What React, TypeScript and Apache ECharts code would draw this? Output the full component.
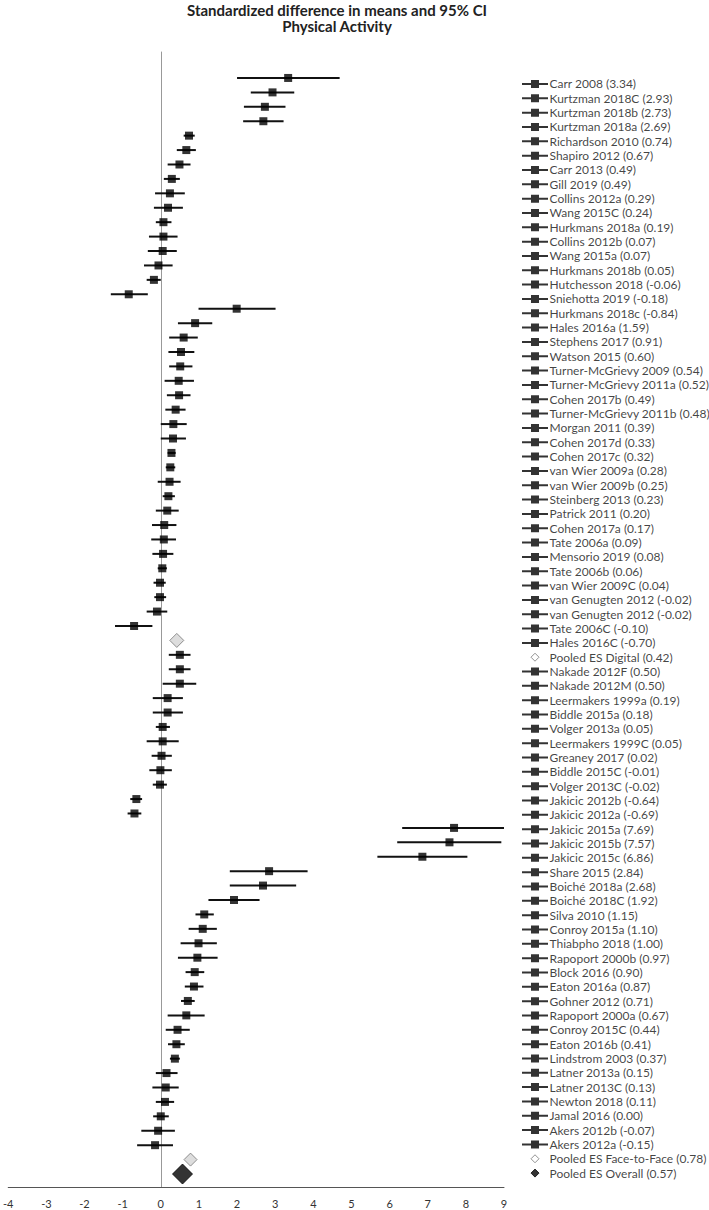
import React, { useEffect, useRef } from "react";
import * as echarts from "echarts";

// ---- Right-hand label column (77 rows) ----
const studyNames = [
  "Carr 2008", "Kurtzman 2018C", "Kurtzman 2018b", "Kurtzman 2018a", "Richardson 2010",
  "Shapiro 2012", "Carr 2013", "Gill 2019", "Collins 2012a", "Wang 2015C",
  "Hurkmans 2018a", "Collins 2012b", "Wang 2015a", "Hurkmans 2018b", "Hutchesson 2018",
  "Sniehotta 2019", "Hurkmans 2018c", "Hales 2016a", "Stephens 2017", "Watson 2015",
  "Turner-McGrievy 2009", "Turner-McGrievy 2011a", "Cohen 2017b", "Turner-McGrievy 2011b", "Morgan 2011",
  "Cohen 2017d", "Cohen 2017c", "van Wier 2009a", "van Wier 2009b", "Steinberg 2013",
  "Patrick 2011", "Cohen 2017a", "Tate 2006a", "Mensorio 2019", "Tate 2006b",
  "van Wier 2009C", "van Genugten 2012", "van Genugten 2012", "Tate 2006C", "Hales 2016C",
  "Pooled ES Digital", "Nakade 2012F", "Nakade 2012M", "Leermakers 1999a", "Biddle 2015a",
  "Volger 2013a", "Leermakers 1999C", "Greaney 2017", "Biddle 2015C", "Volger 2013C",
  "Jakicic 2012b", "Jakicic 2012a", "Jakicic 2015a", "Jakicic 2015b", "Jakicic 2015c",
  "Share 2015", "Boiché 2018a", "Boiché 2018C", "Silva 2010", "Conroy 2015a",
  "Thiabpho 2018", "Rapoport 2000b", "Block 2016", "Eaton 2016a", "Gohner 2012",
  "Rapoport 2000a", "Conroy 2015C", "Eaton 2016b", "Lindstrom 2003", "Latner 2013a",
  "Latner 2013C", "Newton 2018", "Jamal 2016", "Akers 2012b", "Akers 2012a",
  "Pooled ES Face-to-Face", "Pooled ES Overall",
];
const studyValues = [
  3.34, 2.93, 2.73, 2.69, 0.74, 0.67, 0.49, 0.49, 0.29, 0.24,
  0.19, 0.07, 0.07, 0.05, -0.06, -0.18, -0.84, 1.59, 0.91, 0.6,
  0.54, 0.52, 0.49, 0.48, 0.39, 0.33, 0.32, 0.28, 0.25, 0.23,
  0.2, 0.17, 0.09, 0.08, 0.06, 0.04, -0.02, -0.02, -0.1, -0.7,
  0.42, 0.5, 0.5, 0.19, 0.18, 0.05, 0.05, 0.02, -0.01, -0.02,
  -0.64, -0.69, 7.69, 7.57, 6.86, 2.84, 2.68, 1.92, 1.15, 1.1,
  1.0, 0.97, 0.9, 0.87, 0.71, 0.67, 0.44, 0.41, 0.37, 0.15,
  0.13, 0.11, 0.0, -0.07, -0.15, 0.78, 0.57,
];
// row kind for the legend-like icon: s = study, g = grey pooled, k = black pooled
const labelKinds = studyNames.map((n) =>
  n === "Pooled ES Overall" ? "k" : n.startsWith("Pooled") ? "g" : "s"
);

// ---- Plot rows (as drawn in the forest plot, 77 rows) ----
const plotEs = [
  3.34, 2.93, 2.73, 2.69, 0.74, 0.67, 0.49, 0.29, 0.24, 0.19,
  0.07, 0.07, 0.05, -0.06, -0.18, -0.84, 1.99, 0.9, 0.6, 0.53,
  0.51, 0.47, 0.48, 0.39, 0.33, 0.32, 0.28, 0.25, 0.23, 0.2,
  0.17, 0.09, 0.08, 0.06, 0.04, -0.02, -0.02, -0.1, -0.7, null,
  0.5, 0.5, 0.5, 0.18, 0.18, 0.05, 0.05, 0.02, -0.01, -0.02,
  -0.64, -0.69, 7.69, 7.57, 6.86, 2.84, 2.68, 1.92, 1.14, 1.1,
  0.99, 0.96, 0.89, 0.87, 0.71, 0.67, 0.44, 0.41, 0.37, 0.15,
  0.13, 0.11, 0.0, -0.07, -0.15, null, null,
];
const plotLo = [
  2.0, 2.36, 2.18, 2.16, 0.6, 0.42, 0.18, 0.08, -0.15, -0.18,
  -0.13, -0.31, -0.34, -0.44, -0.37, -1.31, 0.99, 0.45, 0.22, 0.2,
  0.22, 0.1, 0.16, 0.12, 0.0, 0.0, 0.18, 0.13, -0.08, 0.05,
  -0.13, -0.23, -0.25, -0.22, -0.08, -0.19, -0.17, -0.37, -1.2, null,
  0.21, 0.21, 0.05, -0.21, -0.21, -0.13, -0.37, -0.24, -0.3, -0.21,
  -0.8, -0.87, 6.33, 6.2, 5.68, 1.81, 1.81, 1.25, 0.91, 0.73,
  0.52, 0.45, 0.65, 0.63, 0.53, 0.18, 0.13, 0.19, 0.24, -0.13,
  -0.22, -0.13, -0.2, -0.51, -0.62, null, null,
];
const plotHi = [
  4.69, 3.5, 3.27, 3.22, 0.89, 0.92, 0.78, 0.5, 0.63, 0.58,
  0.28, 0.44, 0.42, 0.31, 0.0, -0.34, 3.01, 1.35, 0.97, 0.88,
  0.83, 0.87, 0.78, 0.65, 0.68, 0.66, 0.39, 0.38, 0.52, 0.37,
  0.47, 0.41, 0.4, 0.33, 0.16, 0.13, 0.14, 0.17, -0.22, null,
  0.78, 0.78, 0.93, 0.58, 0.58, 0.24, 0.47, 0.29, 0.29, 0.16,
  -0.49, -0.51, 9.0, 8.93, 8.04, 3.85, 3.55, 2.59, 1.39, 1.47,
  1.47, 1.49, 1.14, 1.12, 0.89, 1.15, 0.76, 0.63, 0.5, 0.44,
  0.47, 0.35, 0.21, 0.37, 0.32, null, null,
];
// pooled estimates (diamonds) in the plot
const pooledRows = [39, 75, 76];
const pooledEs = [0.42, 0.78, 0.57];
const pooledKinds = ["g", "g", "k"];

const xTicksMin = -4;
const xTicksMax = 9;

const ICON_PATH =
  "path://M0 3 L9 3 L9 0 L17 0 L17 3 L26 3 L26 5 L17 5 L17 8 L9 8 L9 5 L0 5 Z";

export default function App() {
  const ref = useRef<HTMLDivElement>(null);
  useEffect(() => {
    if (!ref.current) return;
    const chart = echarts.init(ref.current, null, { renderer: "svg" });

    const ciData: any[] = [];
    const markerData: any[] = [];
    plotEs.forEach((v, i) => {
      if (v === null) return;
      ciData.push([plotLo[i], plotHi[i], i]);
      markerData.push([v, i]);
    });
    const diamondData = pooledRows.map((r, i) => ({
      value: [pooledEs[i], r],
      symbolSize: pooledKinds[i] === "k" ? 20 : i === 0 ? 14 : 13,
      itemStyle:
        pooledKinds[i] === "k"
          ? { color: "#000", borderColor: "#000", borderWidth: 1 }
          : { color: "#d4d4d4", borderColor: "#777", borderWidth: 1 },
    }));

    const iconData = labelKinds.map((k, r) => {
      if (k === "s") {
        return { value: [20, r], symbol: ICON_PATH, symbolSize: [26, 8], itemStyle: { color: "#000" } };
      }
      return {
        value: [20, r],
        symbol: "diamond",
        symbolSize: 8,
        itemStyle:
          k === "k"
            ? { color: "#000", borderColor: "#000", borderWidth: 1 }
            : { color: "#fff", borderColor: "#777", borderWidth: 1 },
      };
    });
    const textData = studyNames.map((n, r) => ({
      value: [33, r],
      name: `${n} (${studyValues[r].toFixed(2)})`,
    }));

    const option: any = {
      animation: false,
      backgroundColor: "#fff",
      title: {
        text: "Standardized difference in means and 95% CI\nPhysical Activity",
        left: 337,
        top: 2,
        padding: 0,
        textAlign: "center",
        textStyle: {
          fontFamily: "Lato",
          fontWeight: "bold",
          fontSize: 15,
          lineHeight: 16,
          color: "#222",
        },
      },
      grid: [
        { left: 7, width: 497, top: 52, height: 1135 },
        { left: 515, width: 194, top: 52, height: 1135 },
      ],
      xAxis: [
        {
          gridIndex: 0,
          type: "value",
          min: xTicksMin,
          max: xTicksMax,
          interval: 1,
          position: "bottom",
          axisLine: { show: true, onZero: false, lineStyle: { color: "#555", width: 1 } },
          axisTick: { show: false },
          splitLine: { show: false },
          axisLabel: { fontSize: 11, color: "#333", margin: 11, fontFamily: "Lato" },
        },
        { gridIndex: 1, type: "value", min: 0, max: 194, show: false },
      ],
      yAxis: [
        {
          gridIndex: 0,
          type: "value",
          inverse: true,
          min: -1.8,
          max: 76.9,
          axisLine: { show: true, onZero: true, lineStyle: { color: "#999", width: 1 } },
          axisTick: { show: false },
          axisLabel: { show: false },
          splitLine: { show: false },
        },
        {
          gridIndex: 1,
          type: "value",
          inverse: true,
          min: -2.233,
          max: 76.97,
          show: false,
          splitLine: { show: false },
        },
      ],
      series: [
        {
          type: "custom",
          xAxisIndex: 0,
          yAxisIndex: 0,
          silent: true,
          encode: { x: [0, 1], y: 2 },
          data: ciData,
          renderItem: (_params: any, api: any) => {
            const s = api.coord([api.value(0), api.value(2)]);
            const e = api.coord([api.value(1), api.value(2)]);
            return {
              type: "line",
              shape: { x1: s[0], y1: s[1], x2: e[0], y2: e[1] },
              style: { stroke: "#111", lineWidth: 2 },
            };
          },
        },
        {
          type: "scatter",
          xAxisIndex: 0,
          yAxisIndex: 0,
          symbol: "rect",
          symbolSize: 8,
          itemStyle: { color: "#000" },
          data: markerData,
          silent: true,
        },
        {
          type: "scatter",
          xAxisIndex: 0,
          yAxisIndex: 0,
          symbol: "diamond",
          data: diamondData,
          silent: true,
        },
        {
          type: "scatter",
          xAxisIndex: 1,
          yAxisIndex: 1,
          data: iconData,
          silent: true,
        },
        {
          type: "scatter",
          xAxisIndex: 1,
          yAxisIndex: 1,
          symbolSize: 1,
          itemStyle: { color: "rgba(0,0,0,0)" },
          data: textData,
          silent: true,
          clip: false,
          label: {
            show: true,
            position: "right",
            distance: 1,
            formatter: "{b}",
            fontFamily: "Lato",
            fontSize: 12,
            color: "#111",
          },
        },
      ],
    };
    chart.setOption(option);
    return () => chart.dispose();
  }, []);
  return (
    <div
      ref={ref}
      style={{ position: "absolute", left: 0, top: 0, width: 709, height: 1210, background: "#fff" }}
    />
  );
}
